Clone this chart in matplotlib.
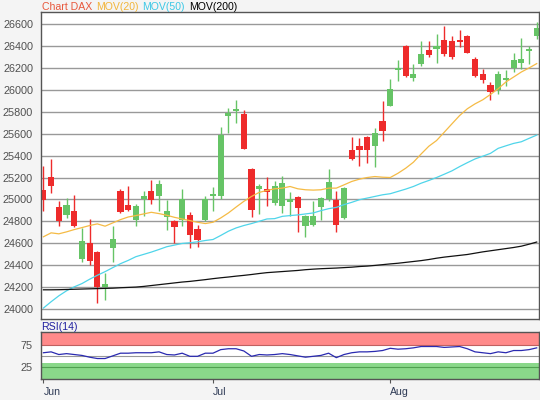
import numpy as np
import matplotlib
matplotlib.use("Agg")
import matplotlib.pyplot as plt

plt.rcParams['font.family'] = ['Liberation Sans', 'DejaVu Sans']

# daily candles, index 0 = first trading day of June
opens = [25088, 25209, 24927, 24855, 24891, 24452, 24597, 24518, 24203, 24552,
         25079, 24952, 24815, 25003, 25079, 25033, 24836, 24800, 24815, 24861,
         24733, 24815, 25027, 25027, 25766, 25808, 25781, 25279, 25097, 25094,
         24967, 24936, 24973, 25021, 24755, 24770, 24927, 25003, 24997, 24830,
         25452, 25492, 25568, 25486, 25715, 25853, 26181, 26404, 26110, 26236,
         26364, 26373, 26456, 26447, 26456, 26493, 26282, 26150, 26049, 26003,
         26089, 26202, 26251, 26358, 26496]
closes = [24997, 25127, 24800, 24952, 24761, 24624, 24436, 24203, 24224, 24642,
          24885, 24906, 24942, 25033, 24991, 25142, 24897, 24745, 25003, 24670,
          24627, 25003, 25052, 25589, 25787, 25830, 25464, 24900, 25124, 25064,
          25124, 25148, 25003, 24921, 24845, 24852, 25012, 25158, 24770, 25103,
          25367, 25455, 25455, 25608, 25624, 26006, 26202, 26126, 26144, 26328,
          26325, 26404, 26334, 26303, 26441, 26343, 26126, 26089, 25982, 26144,
          26110, 26272, 26288, 26373, 26572]
highs = [25306, 25370, 24982, 25012, 25036, 24736, 24824, 24527, 24330, 24761,
         25097, 25118, 24958, 25073, 25179, 25179, 24997, 24815, 25097, 24882,
         24770, 25033, 25109, 25665, 25839, 25909, 25817, 25285, 25142, 25209,
         25164, 25215, 25064, 25027, 24861, 24982, 25018, 25279, 25079, 25109,
         25568, 25559, 25578, 25651, 25896, 26098, 26272, 26410, 26236, 26447,
         26447, 26517, 26588, 26493, 26548, 26502, 26303, 26190, 26074, 26171,
         26181, 26343, 26478, 26404, 26618]
lows = [24897, 25058, 24761, 24830, 24748, 24427, 24403, 24048, 24082, 24427,
        24876, 24897, 24761, 24845, 24958, 24897, 24724, 24597, 24761, 24555,
        24564, 24800, 24891, 25006, 25604, 25702, 25458, 24836, 24870, 24936,
        24952, 24876, 24845, 24700, 24658, 24755, 24815, 24982, 24700, 24824,
        25360, 25309, 25336, 25300, 25538, 25853, 26083, 26119, 26083, 26220,
        26303, 26251, 26312, 26282, 26395, 26340, 26119, 26064, 25911, 25966,
        26034, 26165, 26190, 26236, 26471]

ma20 = [24658, 24694, 24685, 24703, 24724, 24742, 24761, 24776, 24755, 24785,
        24815, 24839, 24852, 24867, 24882, 24870, 24855, 24836, 24821, 24806,
        24791, 24779, 24791, 24830, 24876, 24930, 24982, 25027, 25064, 25082,
        25097, 25103, 25118, 25097, 25088, 25085, 25088, 25103, 25103, 25133,
        25164, 25185, 25200, 25209, 25203, 25200, 25239, 25285, 25340, 25415,
        25486, 25538, 25614, 25691, 25767, 25829, 25874, 25911, 25960, 26012,
        26074, 26119, 26165, 26202, 26242]
ma50 = [24006, 24064, 24118, 24164, 24200, 24230, 24270, 24306, 24339, 24376,
        24412, 24442, 24476, 24497, 24518, 24542, 24567, 24582, 24597, 24603,
        24612, 24624, 24633, 24670, 24709, 24739, 24761, 24779, 24800, 24821,
        24824, 24845, 24852, 24858, 24867, 24876, 24897, 24915, 24927, 24952,
        24973, 24997, 25012, 25027, 25042, 25052, 25073, 25094, 25118, 25148,
        25173, 25200, 25230, 25261, 25300, 25336, 25370, 25395, 25421, 25467,
        25490, 25512, 25527, 25558, 25588]
ma200 = [24173, 24173, 24174, 24176, 24178, 24180, 24182, 24184, 24186, 24188,
         24192, 24195, 24198, 24204, 24212, 24220, 24228, 24236, 24244, 24250,
         24258, 24266, 24275, 24283, 24290, 24298, 24305, 24313, 24322, 24330,
         24335, 24340, 24345, 24350, 24357, 24362, 24366, 24369, 24372, 24376,
         24380, 24386, 24390, 24396, 24403, 24410, 24416, 24424, 24432, 24440,
         24450, 24462, 24472, 24480, 24488, 24496, 24508, 24520, 24530, 24540,
         24550, 24560, 24572, 24590, 24610]
rsi = [57, 59, 53, 55, 53, 51, 47, 44, 44, 50,
       56, 56, 57, 57, 57, 59, 53, 52, 56, 49,
       49, 56, 56, 64, 66, 66, 61, 49, 53, 52,
       53, 55, 53, 50, 47, 49, 51, 56, 46, 53,
       57, 59, 59, 60, 62, 67, 65, 66, 68, 71,
       71, 71, 69, 70, 71, 66, 59, 57, 55, 59,
       57, 62, 62, 64, 68]

month_pos = [0, 22, 45]
month_labels = ['Jun', 'Jul', 'Aug']
price_ticks = [24000, 24200, 24400, 24600, 24800, 25000, 25200, 25400,
               25600, 25800, 26000, 26200, 26400, 26600]

o = np.array(opens); c = np.array(closes)
h = np.array(highs); l = np.array(lows)
x = np.arange(len(o))
up = c >= o
cols = np.where(up, '#66c466', '#ee2b2b')

fig = plt.figure(figsize=(5.4, 4), dpi=100, facecolor='#f4f4f4')
ax = fig.add_axes([0.0754, 0.2025, 0.9228, 0.7675])
rx = fig.add_axes([0.0754, 0.0525, 0.9228, 0.1168], sharex=ax)

for a in (ax, rx):
    a.set_facecolor('white')
    for s in a.spines.values():
        s.set_color('#555555')
        s.set_linewidth(1)

ax.set_yticks(price_ticks)
ax.grid(axis='y', color='#999999', linewidth=1, zorder=0)
ax.vlines(x, l, h, colors=cols, linewidth=1, zorder=2)
body = np.maximum(np.abs(c - o), 8)
ax.bar(x, body, bottom=np.minimum(o, c), width=0.8, color=cols, linewidth=0, zorder=2)
ax.plot(x, ma20, color='#f5bb45', linewidth=0.9, zorder=3)
ax.plot(x, ma50, color='#4fd5ea', linewidth=0.9, zorder=3)
ax.plot(x, ma200, color='#111111', linewidth=0.9, zorder=3)
ax.set_ylim(23906, 26714)
ax.set_xlim(-0.35, 64.3)
ax.tick_params(axis='y', length=0, pad=5.5, labelsize=7.8, labelcolor='#505050')
ax.tick_params(axis='x', bottom=False, labelbottom=False)

# rsi panel
rx.axhspan(75, 103, color='#ff8a8a', zorder=0, linewidth=0)
rx.axhspan(-2, 33, color='#8ad88a', zorder=0, linewidth=0)
rx.axhline(75, color='#c06060', linewidth=0.8, zorder=1)
rx.axhline(50, color='#999999', linewidth=0.8, zorder=1)
rx.axhline(25, color='#50a050', linewidth=0.8, zorder=1)
rx.plot(x, rsi, color='#2a2ab0', linewidth=0.9, zorder=3)
rx.set_ylim(-2, 103)
rx.set_yticks([25, 75])
rx.tick_params(axis='y', length=0, pad=5.5, labelsize=7.8, labelcolor='#505050')
rx.set_xticks(month_pos)
rx.set_xticklabels(month_labels, ha='left')
rx.tick_params(axis='x', length=3, width=0.8, color='#555555', pad=2.5,
               labelsize=7.6, labelcolor='#2e3a55')

fig.text(41 / 540, 1 - 327 / 400, 'RSI(14)', color='#2020a0', fontsize=7.6, va='center')

title_parts = [('Chart DAX', '#e8583c', 41.5), ('MOV(20)', '#f2b53a', 96),
               ('MOV(50)', '#3cc8e6', 142.5), ('MOV(200)', '#000000', 189)]
for txt, col, px in title_parts:
    fig.text(px / 540, 1 - 7 / 400, txt, color=col, fontsize=7.6, va='center')

fig.savefig('out.png', dpi=100, facecolor=fig.get_facecolor())
